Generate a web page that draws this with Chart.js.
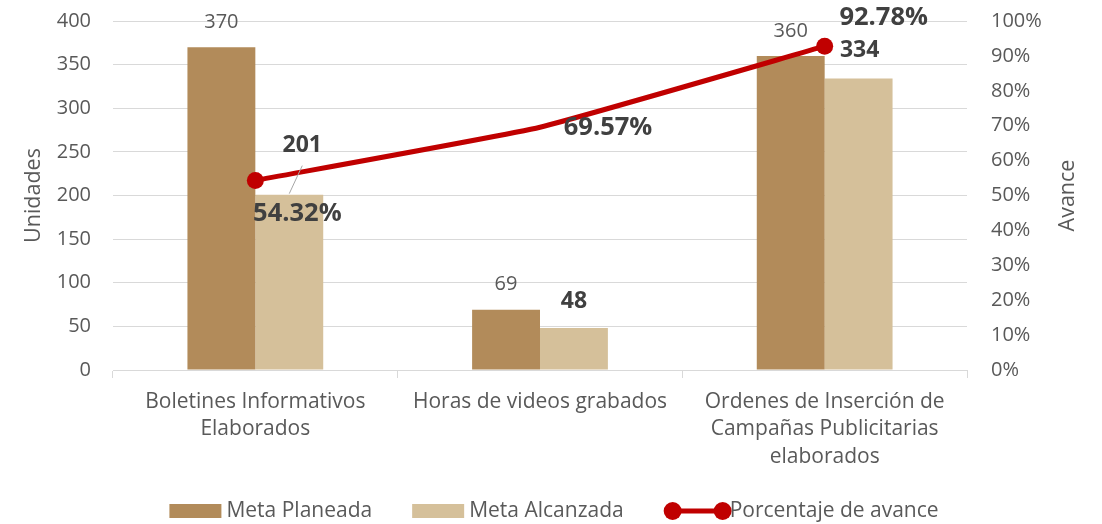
<!DOCTYPE html>
<html>
<head>
<meta charset="utf-8">
<script src="https://cdn.jsdelivr.net/npm/chart.js@4.4.0/dist/chart.umd.min.js"></script>
<style>
  html, body { margin: 0; padding: 0; background: #fff; }
  #wrap { width: 1102px; height: 524px; }
</style>
</head>
<body>
<div id="wrap"><canvas id="avanceChart" width="1102" height="524"></canvas></div>
<script>
// datos del grafico
const categorias = [
    ['Boletines Informativos', 'Elaborados'],
    ['Horas de videos grabados'],
    ['Ordenes de Inserción de', 'Campañas Publicitarias', 'elaborados']
];
const metaPlaneada = [370, 69, 360];
const metaAlcanzada = [201, 48, 334];
const porcentajeAvance = [54.32, 69.57, 92.78];

const FONT = '"Open Sans", sans-serif';
const GRIS = '#595959';

// desplazamiento de las etiquetas de datos (dx, dy) respecto a la marca
const offPlaneada = [[0, -25], [0, -26], [0, -25]];
const offAlcanzada = [[13, -49], [0, -27], [1, -28]];
const offAvance = [[42, 33], [68, 1], [59, -28]];

const etiquetasPlugin = {
    id: 'etiquetas',
    afterDatasetsDraw(chart) {
        const ctx = chart.ctx;
        ctx.save();
        ctx.textAlign = 'center';
        ctx.textBaseline = 'middle';

        // Meta Planeada: normal
        chart.getDatasetMeta(1).data.forEach((bar, i) => {
            ctx.font = '20px ' + FONT;
            ctx.fillStyle = GRIS;
            ctx.fillText(metaPlaneada[i], bar.x + offPlaneada[i][0], bar.y + offPlaneada[i][1]);
        });

        // Meta Alcanzada: negrita
        chart.getDatasetMeta(2).data.forEach((bar, i) => {
            const x = bar.x + offAlcanzada[i][0];
            const y = bar.y + offAlcanzada[i][1];
            if (offAlcanzada[i][1] < -40) {
                // linea guia
                ctx.strokeStyle = '#A6A6A6';
                ctx.lineWidth = 1;
                ctx.beginPath();
                ctx.moveTo(x, y + 20);
                ctx.lineTo(bar.x, bar.y - 1);
                ctx.stroke();
            }
            ctx.font = 'bold 23px ' + FONT;
            ctx.fillStyle = '#404040';
            ctx.fillText(metaAlcanzada[i], x, y);
        });

        // Porcentaje de avance
        chart.getDatasetMeta(0).data.forEach((pt, i) => {
            ctx.font = 'bold 25.5px ' + FONT;
            ctx.fillStyle = '#404040';
            ctx.fillText(porcentajeAvance[i].toFixed(2) + '%', pt.x + offAvance[i][0], pt.y + offAvance[i][1]);
        });
        ctx.restore();
    },
    afterDraw(chart) {
        const ctx = chart.ctx;
        const area = chart.chartArea;
        ctx.save();
        // titulos de ejes
        ctx.font = '21.5px ' + FONT;
        ctx.fillStyle = GRIS;
        ctx.textAlign = 'center';
        ctx.textBaseline = 'middle';
        const midY = (area.top + area.bottom) / 2;
        [['Unidades', 34], ['Avance', 1068]].forEach(([t, x]) => {
            ctx.save();
            ctx.translate(x, midY);
            ctx.rotate(-Math.PI / 2);
            ctx.fillText(t, 0, 0);
            ctx.restore();
        });

        // leyenda
        ctx.font = '21px ' + FONT;
        ctx.textAlign = 'left';
        const y = 511;
        const items = chart.data.datasets.slice(1).concat(chart.data.datasets.slice(0, 1));
        const simbolos = items.map(d => d.type === 'line' ? 66 : 57);
        const anchos = items.map((d, i) => simbolos[i] + ctx.measureText(d.label).width);
        const gap = 40;
        const total = anchos.reduce((a, b) => a + b, 0) + gap * (items.length - 1);
        let x = chart.width / 2 - total / 2 + 3;
        items.forEach((d, i) => {
            if (d.type === 'line') {
                ctx.strokeStyle = d.borderColor;
                ctx.lineWidth = 5;
                ctx.beginPath();
                ctx.moveTo(x + 9, y);
                ctx.lineTo(x + 59, y);
                ctx.stroke();
                ctx.fillStyle = d.borderColor;
                [x + 9, x + 59].forEach(cx => {
                    ctx.beginPath();
                    ctx.arc(cx, y, 9, 0, Math.PI * 2);
                    ctx.fill();
                });
                ctx.fillStyle = GRIS;
                ctx.fillText(d.label, x + 66, y);
            } else {
                ctx.fillStyle = d.backgroundColor;
                ctx.fillRect(x, y - 7, 52, 14);
                ctx.fillStyle = GRIS;
                ctx.fillText(d.label, x + 57, y);
            }
            x += anchos[i] + gap;
        });
        ctx.restore();
    }
};

// recorta el relleno superior/inferior que Chart.js suma por el padding de los ticks
function ajusteVertical(ancho) {
    return scale => {
        scale.width = ancho;
        scale.paddingTop = 12;
        scale.paddingBottom = 12;
    };
}

const ctx = document.getElementById('avanceChart').getContext('2d');
const avanceChart = new Chart(ctx, {
    type: 'bar',
    data: {
        labels: categorias,
        datasets: [{
            type: 'line',
            label: 'Porcentaje de avance',
            data: porcentajeAvance,
            yAxisID: 'y1',
            borderColor: '#C00000',
            backgroundColor: '#C00000',
            borderWidth: 5,
            tension: 0.12,
            pointRadius: [8.5, 0, 8.5],
            pointBackgroundColor: '#C00000',
            pointBorderColor: '#C00000',
            pointBorderWidth: 0,
            order: 0
        }, {
            label: 'Meta Planeada',
            data: metaPlaneada,
            backgroundColor: '#B28B5A',
            categoryPercentage: 0.477,
            barPercentage: 1,
            order: 1
        }, {
            label: 'Meta Alcanzada',
            data: metaAlcanzada,
            backgroundColor: '#D5C09A',
            categoryPercentage: 0.477,
            barPercentage: 1,
            order: 1
        }]
    },
    options: {
        responsive: false,
        animation: false,
        layout: { padding: { top: 21, bottom: 49, left: 0, right: 0 } },
        plugins: {
            legend: { display: false },
            tooltip: { enabled: false }
        },
        scales: {
            x: {
                grid: { offset: true, drawOnChartArea: false, color: '#D9D9D9', tickLength: 8 },
                border: { color: '#D9D9D9' },
                ticks: { font: { family: FONT, size: 21, lineHeight: 1.31 }, color: GRIS, maxRotation: 0, autoSkip: false, padding: 10 },
                afterFit(scale) { scale.height = 105; }
            },
            y: {
                position: 'left',
                min: 0, max: 400,
                ticks: { stepSize: 50, font: { family: FONT, size: 20 }, color: GRIS, padding: 22 },
                grid: { color: '#D9D9D9', drawTicks: false },
                border: { display: false },
                afterFit: ajusteVertical(113)
            },
            y1: {
                position: 'right',
                min: 0, max: 100,
                ticks: { stepSize: 10, font: { family: FONT, size: 20 }, color: GRIS, padding: 24, callback: v => v + '%' },
                grid: { drawOnChartArea: false, drawTicks: false },
                border: { display: false },
                afterFit: ajusteVertical(135)
            }
        }
    },
    plugins: [etiquetasPlugin]
});
</script>
</body>
</html>
